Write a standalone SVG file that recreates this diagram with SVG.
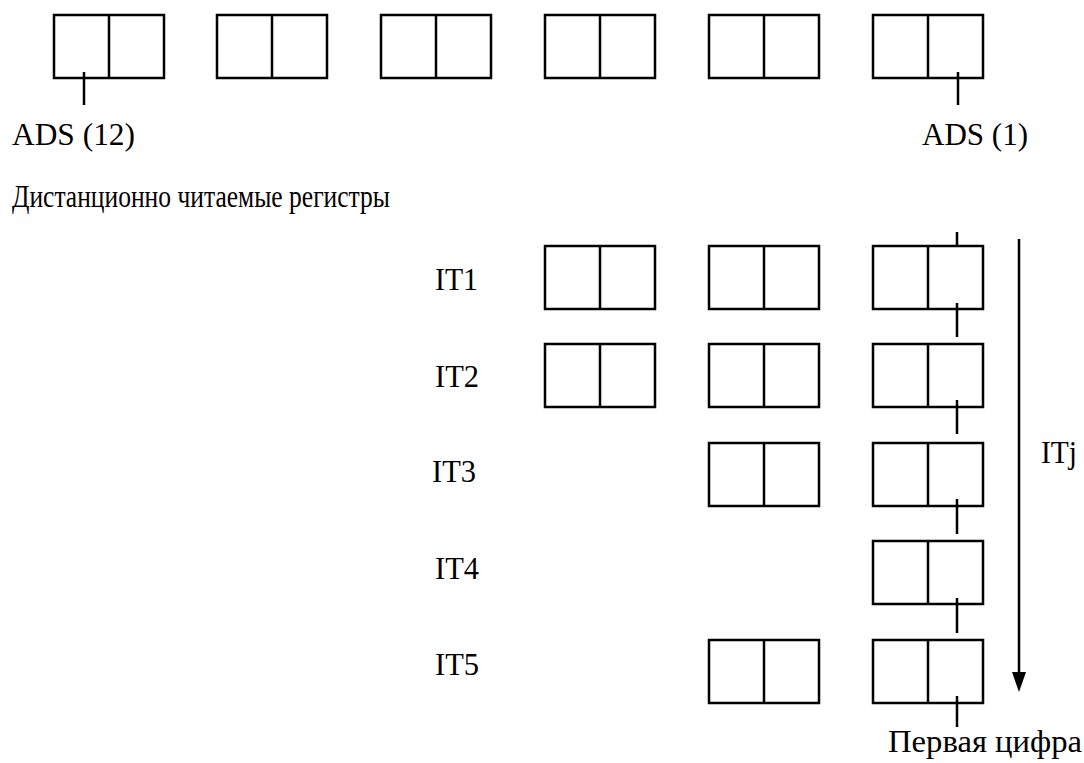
<svg xmlns="http://www.w3.org/2000/svg" width="1084" height="763" viewBox="0 0 1084 763">
<style>
.b{fill:none;stroke:#000;stroke-width:2.5}
.d{stroke:#000;stroke-width:2.5}
text{font-family:'Liberation Serif','Times New Roman','DejaVu Serif','Noto Serif',serif;font-size:31px;fill:#000}
</style>
<defs>
<g id="reg"><rect class="b" x="0" y="0" width="110" height="63"/><line class="d" x1="55" y1="0" x2="55" y2="63"/></g>
</defs>
<rect width="1084" height="763" fill="#fff"/>
<g id="top-row">
<use href="#reg" x="54" y="15"/>
<use href="#reg" x="217" y="15"/>
<use href="#reg" x="381" y="15"/>
<use href="#reg" x="545" y="15"/>
<use href="#reg" x="709" y="15"/>
<use href="#reg" x="873" y="15"/>
</g>
<g id="it1"><text x="435" y="290" textLength="43" lengthAdjust="spacingAndGlyphs">IT1</text><use href="#reg" x="545" y="246"/><use href="#reg" x="709" y="246"/><use href="#reg" x="873" y="246"/></g>
<g id="it2"><text x="435" y="387" textLength="44" lengthAdjust="spacingAndGlyphs">IT2</text><use href="#reg" x="545" y="344"/><use href="#reg" x="709" y="344"/><use href="#reg" x="873" y="344"/></g>
<g id="it3"><text x="432" y="482" textLength="44" lengthAdjust="spacingAndGlyphs">IT3</text><use href="#reg" x="709" y="443"/><use href="#reg" x="873" y="443"/></g>
<g id="it4"><text x="435" y="579" textLength="44" lengthAdjust="spacingAndGlyphs">IT4</text><use href="#reg" x="873" y="541"/></g>
<g id="it5"><text x="435" y="675" textLength="44" lengthAdjust="spacingAndGlyphs">IT5</text><use href="#reg" x="709" y="640"/><use href="#reg" x="873" y="640"/></g>
<g id="labels">
<text x="12" y="145" textLength="123" lengthAdjust="spacingAndGlyphs">ADS (12)</text>
<text x="922" y="145" textLength="106" lengthAdjust="spacingAndGlyphs">ADS (1)</text>
<text x="12" y="207" textLength="378" lengthAdjust="spacingAndGlyphs">Дистанционно читаемые регистры</text>
<text x="1041" y="463" textLength="36" lengthAdjust="spacingAndGlyphs">ITj</text>
<text x="888" y="752" textLength="194" lengthAdjust="spacingAndGlyphs">Первая цифра</text>
</g>
<g id="connectors">
<line class="d" x1="84" y1="72" x2="84" y2="105"/>
<line class="d" x1="958" y1="72" x2="958" y2="105"/>
<line class="d" x1="957" y1="232" x2="957" y2="246"/>
<line class="d" x1="957" y1="303" x2="957" y2="337"/>
<line class="d" x1="957" y1="400" x2="957" y2="434"/>
<line class="d" x1="957" y1="499" x2="957" y2="534"/>
<line class="d" x1="957" y1="598" x2="957" y2="633"/>
<line class="d" x1="957" y1="696" x2="957" y2="727"/>
<line class="d" x1="1019" y1="239" x2="1019" y2="675"/>
<polygon points="1012,672 1026,672 1019,692" fill="#000"/>
</g>
</svg>
